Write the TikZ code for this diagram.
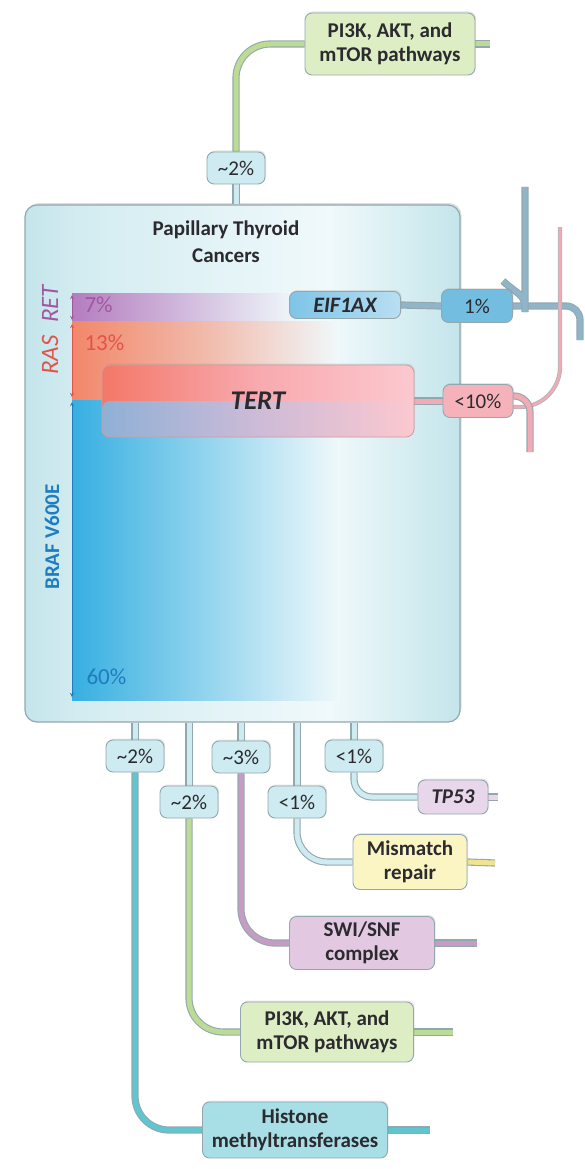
\documentclass[tikz,border=0pt]{standalone}
\usepackage{fontspec}
\setmainfont{Carlito}
\usetikzlibrary{shadows}

\definecolor{ink}{HTML}{2B2A2E}
\definecolor{edgegray}{HTML}{93A8AE}
\definecolor{ptcside}{HTML}{C4E5EB}
\definecolor{ptcleft}{HTML}{D3ECF1}
\definecolor{ptcmid}{HTML}{F0F9FB}
\definecolor{pctfill}{HTML}{CDEBF0}
\definecolor{grnfill}{HTML}{DDEDC4}
\definecolor{grnline}{HTML}{BCDB94}
\definecolor{purfill}{HTML}{E2C9E1}
\definecolor{purline}{HTML}{C79CC4}
\definecolor{yelfill}{HTML}{FBF5C4}
\definecolor{yelline}{HTML}{F0E58E}
\definecolor{tpfill}{HTML}{E8D7EA}
\definecolor{hmtfill}{HTML}{A8DEE6}
\definecolor{hmtline}{HTML}{5FC5D0}
\definecolor{eiffill}{HTML}{7FC4E7}
\definecolor{onefill}{HTML}{72BDE0}
\definecolor{blueline}{HTML}{90B5C9}
\definecolor{pinkfill}{HTML}{F6B2BB}
\definecolor{pinkline}{HTML}{F2AAB4}
\definecolor{retc}{HTML}{B47DBF}
\definecolor{rasc}{HTML}{F2876A}
\definecolor{brafc}{HTML}{36AFE1}
\definecolor{tertred}{HTML}{F37868}
\definecolor{tertmid}{HTML}{F8AAAF}
\definecolor{tertpink}{HTML}{FBC8CF}
\definecolor{tertblue}{HTML}{8FB0D6}
\definecolor{tertlav}{HTML}{CDBBD7}
\definecolor{rettxt}{HTML}{A2579E}
\definecolor{rastxt}{HTML}{E2534A}
\definecolor{braftxt}{HTML}{1F7DBE}

\pgfdeclarehorizontalshading{ptcshade}{100bp}{color(0bp)=(ptcside); color(25bp)=(ptcside);
  color(31bp)=(ptcleft); color(60bp)=(ptcmid); color(75bp)=(ptcside); color(100bp)=(ptcside)}

\pgfdeclarelayer{back}
\pgfdeclarelayer{mid}
\pgfsetlayers{back,mid,main}

\begin{document}
\begin{tikzpicture}[x=1pt,y=-1pt,
  box/.style={rounded corners=7, draw=edgegray, line width=0.9, align=center, inner sep=0,
    text=ink, font=\bfseries\fontsize{21}{24}\selectfont,
    drop shadow={opacity=0.2, shadow xshift=1, shadow yshift=-1.5}},
  pct/.style={box, fill=pctfill, minimum width=58, minimum height=32, font=\fontsize{21}{22}\selectfont},
  pipe/.style={draw=edgegray, line width=1.1, double distance=5, rounded corners=34},
  thinpipe/.style={draw=edgegray!80, line width=0.8, double distance=2.6, rounded corners=40},
  bar/.style={<->, >=stealth, line width=0.9},
  side/.style={text=#1, font=\fontsize{23}{24}\selectfont},
]
\useasboundingbox (0,0) rectangle (584,1169);

% main box and the bars inside it
\begin{pgfonlayer}{back}
\node[rounded corners=12, draw=edgegray, line width=1.2, shading=ptcshade,
  minimum width=435, minimum height=517,
  drop shadow={opacity=0.25, shadow xshift=1.5, shadow yshift=-2}] (ptc) at (242.5,463.5) {};
\shade[left color=retc, right color=ptcmid] (72,293) rectangle (300,321);
\shade[left color=rasc, right color=ptcmid, middle color=rasc!55!ptcmid] (72,321) rectangle (340,400);
\shade[left color=brafc, right color=ptcmid, middle color=brafc!50!ptcmid] (72,400) rectangle (340,700);
\end{pgfonlayer}

\node[align=center, text=ink, font=\bfseries\fontsize{21}{27}\selectfont] (title) at (226,242) {Papillary Thyroid\\Cancers};

\draw[bar, rettxt] (72,295) -- (72,320);
\draw[bar, rastxt] (72,324) -- (72,397);
\draw[bar, braftxt] (72,402) -- (72,697);
\node[rotate=90, text=rettxt, font=\itshape\fontsize{25}{26}\selectfont] (retlab) at (50,304) {RET};
\node[rotate=90, text=rastxt, font=\itshape\fontsize{25}{26}\selectfont] (raslab) at (50,355) {RAS};
\node[rotate=90, text=braftxt, font=\bfseries\fontsize{21}{22}\selectfont] (braflab) at (52,537) {BRAF V600E};
\node[anchor=west, side=rettxt] (retpct) at (81,305) {7\%};
\node[anchor=west, side=rastxt] (raspct) at (81,343) {13\%};
\node[anchor=west, side=braftxt] (brafpct) at (83,677) {60\%};

% top branch
\node[box, fill=grnfill, minimum width=170, minimum height=62] (pikTop) at (390,44) {PI3K, AKT, and\\mTOR pathways};
\node[pct] (pTop) at (236,168) {\textasciitilde2\%};

% right branches
\node[box, left color=eiffill, right color=eiffill!55, minimum width=111, minimum height=27,
  font=\bfseries\itshape\fontsize{22}{22}\selectfont] (eif) at (345,305) {EIF1AX};
\node[pct, fill=onefill, minimum width=71, minimum height=33] (pEif) at (477,306) {1\%};
\node[rounded corners=8, draw=pinkline!70!gray, line width=0.8,
  left color=tertred, right color=tertpink, middle color=tertmid,
  path picture={\shade[left color=tertblue, right color=tertpink, middle color=tertlav]
    (path picture bounding box.west) rectangle (path picture bounding box.south east);},
  drop shadow={opacity=0.2, shadow xshift=1, shadow yshift=-1.5},
  minimum width=312, minimum height=72, text=ink,
  font=\bfseries\itshape\fontsize{27}{28}\selectfont] (tert) at (258,401) {TERT};
\node[pct, fill=pinkfill, minimum width=70, minimum height=33] (pTert) at (478,401) {<10\%};

% bottom branches
\node[pct] (b1) at (135,756) {\textasciitilde2\%};
\node[pct] (b2) at (189,802) {\textasciitilde2\%};
\node[pct] (b3) at (241,757) {\textasciitilde3\%};
\node[pct] (b4) at (297,802) {<1\%};
\node[pct] (b5) at (354,756) {<1\%};
\node[box, fill=tpfill, minimum width=70, minimum height=34, font=\bfseries\itshape\fontsize{21}{22}\selectfont] (tp) at (453,797) {TP53};
\node[box, fill=yelfill, minimum width=114, minimum height=55] (mmr) at (410,862) {Mismatch\\repair};
\node[box, fill=purfill, minimum width=145, minimum height=53] (swi) at (362,943) {SWI/SNF\\complex};
\node[box, fill=grnfill, minimum width=173, minimum height=60] (pikBot) at (327,1032) {PI3K, AKT, and\\mTOR pathways};
\node[box, fill=hmtfill, minimum width=185, minimum height=56] (hmt) at (295,1130) {Histone\\methyltransferases};

% free ends where the figure is cut
\coordinate (cutTop) at (490,44);
\coordinate (cutUp) at (525,187);
\coordinate (cutRight) at (580,340);
\coordinate (cutPinkUp) at (560,227);
\coordinate (cutPinkDown) at (530,452);
\coordinate (cutTp) at (498,797);
\coordinate (cutMmr) at (495,863);
\coordinate (cutSwi) at (477,943);
\coordinate (cutPik) at (453,1032);
\coordinate (cutHmt) at (430,1130);

\begin{pgfonlayer}{mid}
\draw[pipe, double=grnline] (pikTop.west) -| (pTop.north);
\draw[pipe, double=grnline] (pikTop.east) -- (cutTop);
\draw[pipe, double=pctfill] (pTop.south) -- (pTop.south |- ptc.north);

\draw[pipe, double=blueline] (eif.east) -- (pEif.west);
\draw[pipe, double=blueline, rounded corners=14] (pEif.east) -| (cutRight);
\draw[pipe, double=blueline] ([xshift=-10,yshift=8]pEif.north east) .. controls (521,297.5) and (525,293) .. (525,278) -- (cutUp);
\draw[pipe, double=pinkline] (tert.east) -- (pTert.west);
\draw[thinpipe, double=pinkline] ([yshift=-6]pTert.east) -| (cutPinkUp);
\draw[pipe, double=pinkline, rounded corners=16] ([yshift=5]pTert.east) -| (cutPinkDown);

\foreach \b in {b1,b2,b3,b4,b5}
  \draw[pipe, double=pctfill] (\b.north |- ptc.south) -- (\b.north);
\draw[pipe, double=hmtline] (b1.south) |- (hmt.west);
\draw[pipe, double=grnline] (b2.south) |- (pikBot.west);
\draw[pipe, double=purline] (b3.south) |- (swi.west);
\draw[pipe, double=pctfill, rounded corners=30] (b4.south) |- (mmr.west);
\draw[pipe, double=pctfill, rounded corners=18] (b5.south) |- (tp.west);
\draw[pipe, double=tpfill] (tp.east) -- (cutTp);
\draw[pipe, double=yelline] (mmr.east) -- (cutMmr);
\draw[pipe, double=purline] (swi.east) -- (cutSwi);
\draw[pipe, double=grnline] (pikBot.east) -- (cutPik);
\draw[pipe, double=hmtline] (hmt.east) -- (cutHmt);
\end{pgfonlayer}

\end{tikzpicture}
\end{document}
